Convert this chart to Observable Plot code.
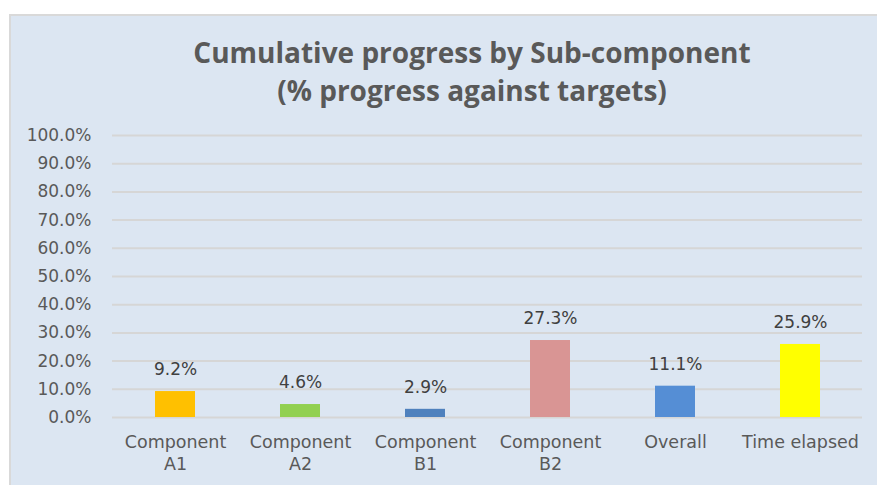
<!DOCTYPE html>
<html>
<head>
<meta charset="utf-8">
<script src="https://cdn.jsdelivr.net/npm/d3@7"></script>
<script src="https://cdn.jsdelivr.net/npm/@observablehq/plot@0.6"></script>
<style>
  html, body { margin: 0; padding: 0; background: #ffffff; width: 877px; height: 485px; overflow: hidden; }
  #panel { position: absolute; left: 9px; top: 14px; width: 868px; height: 471px; background: #dce6f2;
           border-top: 2px solid #d9d9d9; border-left: 2px solid #d9d9d9; box-sizing: border-box; }
  #title { position: absolute; left: 122px; width: 700px; top: 33px; text-align: center;
           font-family: "Open Sans", sans-serif; font-weight: 700; font-size: 28px; line-height: 38px; color: #595959; }
  #chart { position: absolute; left: 0; top: 115px; }
</style>
</head>
<body>
<div id="panel"></div>
<div id="title">Cumulative progress by Sub-component<br>(% progress against targets)</div>
<div id="chart"></div>
<script>
const categories = ["Component A1", "Component A2", "Component B1", "Component B2", "Overall", "Time elapsed"];
const tickLabels = ["Component\nA1", "Component\nA2", "Component\nB1", "Component\nB2", "Overall", "Time elapsed"];
const values = [0.092, 0.046, 0.029, 0.273, 0.111, 0.259];
const colors = ["#ffc000", "#92d050", "#4f81bd", "#d99594", "#558ed5", "#ffff00"];
const yTicks = [0, 0.1, 0.2, 0.3, 0.4, 0.5, 0.6, 0.7, 0.8, 0.9, 1.0];

const data = categories.map((c, i) => ({category: c, value: values[i], color: colors[i]}));
const labelMap = new Map(categories.map((c, i) => [c, tickLabels[i]]));

const chart = Plot.plot({
  width: 877,
  height: 370,
  marginLeft: 112,
  marginRight: 15,
  marginTop: 20,
  marginBottom: 68,
  style: {background: "transparent", fontFamily: "DejaVu Sans, sans-serif", fontSize: "17px", color: "#595959"},
  x: {domain: categories, paddingInner: 0.68, paddingOuter: 0.34, align: 0.5, label: null},
  y: {domain: [0, 1], label: null},
  marks: [
    Plot.gridY(yTicks, {stroke: "#d6d6d6", strokeOpacity: 1, strokeWidth: 2}),
    Plot.barY(data, {x: "category", y: "value", fill: "color"}),
    Plot.text(data, {x: "category", y: "value", text: d => (d.value * 100).toFixed(1) + "%",
      dy: -22, fill: "#404040", fontSize: 17, fontFamily: "DejaVu Sans, sans-serif"}),
    Plot.axisY({ticks: yTicks, tickFormat: d => (d * 100).toFixed(1) + "%", tickSize: 0, tickPadding: 21,
      fill: "#595959", fontSize: 17, label: null}),
    Plot.axisX({tickFormat: d => labelMap.get(d), tickSize: 0, tickPadding: 14, lineHeight: 1.3,
      fill: "#595959", fontSize: 17.5, label: null})
  ]
});
document.getElementById("chart").appendChild(chart);
</script>
</body>
</html>
